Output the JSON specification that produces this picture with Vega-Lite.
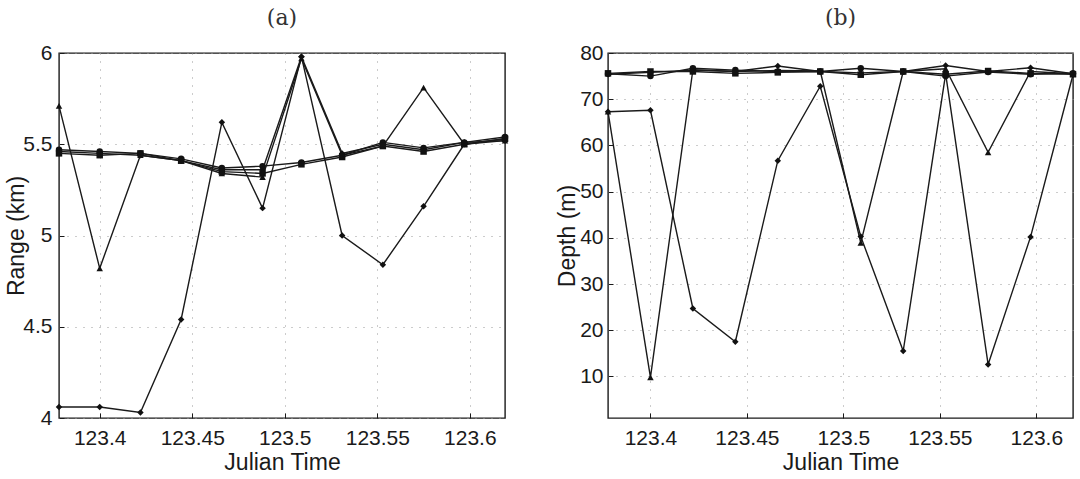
{
  "$schema": "https://vega.github.io/schema/vega-lite/v6.json",
  "background": "white",
  "padding": {"left": 5, "top": 6, "right": 0, "bottom": 0},
  "bounds": "flush",
  "spacing": 103,
  "config": {
    "view": {"stroke": "#1a1a1a", "strokeWidth": 1.4},
    "axis": {
      "labelFont": "Liberation Sans",
      "labelFontSize": 21,
      "labelColor": "#1a1a1a",
      "titleFont": "Liberation Sans",
      "titleFontSize": 23,
      "titleFontWeight": "normal",
      "titleColor": "#1a1a1a",
      "domain": false,
      "ticks": true,
      "tickSize": -5,
      "tickColor": "#1a1a1a",
      "grid": true,
      "gridColor": "#999999",
      "gridDash": [1, 7],
      "gridWidth": 1
    },
    "axisX": {"labelPadding": 14, "titlePadding": 3},
    "axisY": {"labelPadding": 12, "titlePadding": -6},
    "title": {"font": "DejaVu Serif", "fontSize": 22, "fontWeight": "normal", "color": "#333333", "offset": 12}
  },
  "data": {
    "values": [
      {"panel": "a", "series": "D", "t": 123.378, "v": 4.06},
      {"panel": "a", "series": "D", "t": 123.400, "v": 4.06},
      {"panel": "a", "series": "D", "t": 123.422, "v": 4.03},
      {"panel": "a", "series": "D", "t": 123.444, "v": 4.54},
      {"panel": "a", "series": "D", "t": 123.466, "v": 5.62},
      {"panel": "a", "series": "D", "t": 123.488, "v": 5.15},
      {"panel": "a", "series": "D", "t": 123.509, "v": 5.98},
      {"panel": "a", "series": "D", "t": 123.531, "v": 5.00},
      {"panel": "a", "series": "D", "t": 123.553, "v": 4.84},
      {"panel": "a", "series": "D", "t": 123.575, "v": 5.16},
      {"panel": "a", "series": "D", "t": 123.597, "v": 5.50},
      {"panel": "a", "series": "D", "t": 123.619, "v": 5.53},

      {"panel": "a", "series": "T", "t": 123.378, "v": 5.71},
      {"panel": "a", "series": "T", "t": 123.400, "v": 4.82},
      {"panel": "a", "series": "T", "t": 123.422, "v": 5.44},
      {"panel": "a", "series": "T", "t": 123.444, "v": 5.41},
      {"panel": "a", "series": "T", "t": 123.466, "v": 5.34},
      {"panel": "a", "series": "T", "t": 123.488, "v": 5.32},
      {"panel": "a", "series": "T", "t": 123.509, "v": 5.97},
      {"panel": "a", "series": "T", "t": 123.531, "v": 5.44},
      {"panel": "a", "series": "T", "t": 123.553, "v": 5.49},
      {"panel": "a", "series": "T", "t": 123.575, "v": 5.81},
      {"panel": "a", "series": "T", "t": 123.597, "v": 5.50},
      {"panel": "a", "series": "T", "t": 123.619, "v": 5.52},

      {"panel": "a", "series": "X", "t": 123.378, "v": 5.46},
      {"panel": "a", "series": "X", "t": 123.400, "v": 5.45},
      {"panel": "a", "series": "X", "t": 123.422, "v": 5.44},
      {"panel": "a", "series": "X", "t": 123.444, "v": 5.41},
      {"panel": "a", "series": "X", "t": 123.466, "v": 5.36},
      {"panel": "a", "series": "X", "t": 123.488, "v": 5.36},
      {"panel": "a", "series": "X", "t": 123.509, "v": 5.98},
      {"panel": "a", "series": "X", "t": 123.531, "v": 5.45},
      {"panel": "a", "series": "X", "t": 123.553, "v": 5.50},
      {"panel": "a", "series": "X", "t": 123.575, "v": 5.47},
      {"panel": "a", "series": "X", "t": 123.597, "v": 5.51},
      {"panel": "a", "series": "X", "t": 123.619, "v": 5.52},

      {"panel": "a", "series": "C1", "t": 123.378, "v": 5.47},
      {"panel": "a", "series": "C1", "t": 123.400, "v": 5.46},
      {"panel": "a", "series": "C1", "t": 123.422, "v": 5.45},
      {"panel": "a", "series": "C1", "t": 123.444, "v": 5.42},
      {"panel": "a", "series": "C1", "t": 123.466, "v": 5.37},
      {"panel": "a", "series": "C1", "t": 123.488, "v": 5.38},
      {"panel": "a", "series": "C1", "t": 123.509, "v": 5.40},
      {"panel": "a", "series": "C1", "t": 123.531, "v": 5.44},
      {"panel": "a", "series": "C1", "t": 123.553, "v": 5.51},
      {"panel": "a", "series": "C1", "t": 123.575, "v": 5.48},
      {"panel": "a", "series": "C1", "t": 123.597, "v": 5.51},
      {"panel": "a", "series": "C1", "t": 123.619, "v": 5.54},

      {"panel": "a", "series": "C2", "t": 123.378, "v": 5.45},
      {"panel": "a", "series": "C2", "t": 123.400, "v": 5.44},
      {"panel": "a", "series": "C2", "t": 123.422, "v": 5.45},
      {"panel": "a", "series": "C2", "t": 123.444, "v": 5.41},
      {"panel": "a", "series": "C2", "t": 123.466, "v": 5.35},
      {"panel": "a", "series": "C2", "t": 123.488, "v": 5.34},
      {"panel": "a", "series": "C2", "t": 123.509, "v": 5.39},
      {"panel": "a", "series": "C2", "t": 123.531, "v": 5.43},
      {"panel": "a", "series": "C2", "t": 123.553, "v": 5.49},
      {"panel": "a", "series": "C2", "t": 123.575, "v": 5.46},
      {"panel": "a", "series": "C2", "t": 123.597, "v": 5.50},
      {"panel": "a", "series": "C2", "t": 123.619, "v": 5.53},

      {"panel": "b", "series": "D", "t": 123.378, "v": 67.3},
      {"panel": "b", "series": "D", "t": 123.400, "v": 67.6},
      {"panel": "b", "series": "D", "t": 123.422, "v": 24.7},
      {"panel": "b", "series": "D", "t": 123.444, "v": 17.5},
      {"panel": "b", "series": "D", "t": 123.466, "v": 56.7},
      {"panel": "b", "series": "D", "t": 123.488, "v": 72.8},
      {"panel": "b", "series": "D", "t": 123.509, "v": 40.3},
      {"panel": "b", "series": "D", "t": 123.531, "v": 15.5},
      {"panel": "b", "series": "D", "t": 123.553, "v": 75.5},
      {"panel": "b", "series": "D", "t": 123.575, "v": 12.6},
      {"panel": "b", "series": "D", "t": 123.597, "v": 40.2},
      {"panel": "b", "series": "D", "t": 123.619, "v": 75.3},

      {"panel": "b", "series": "T", "t": 123.378, "v": 67.3},
      {"panel": "b", "series": "T", "t": 123.400, "v": 9.8},
      {"panel": "b", "series": "T", "t": 123.422, "v": 76.4},
      {"panel": "b", "series": "T", "t": 123.444, "v": 76.0},
      {"panel": "b", "series": "T", "t": 123.466, "v": 76.2},
      {"panel": "b", "series": "T", "t": 123.488, "v": 76.1},
      {"panel": "b", "series": "T", "t": 123.509, "v": 38.9},
      {"panel": "b", "series": "T", "t": 123.531, "v": 76.0},
      {"panel": "b", "series": "T", "t": 123.553, "v": 76.6},
      {"panel": "b", "series": "T", "t": 123.575, "v": 58.5},
      {"panel": "b", "series": "T", "t": 123.597, "v": 76.0},
      {"panel": "b", "series": "T", "t": 123.619, "v": 75.5},

      {"panel": "b", "series": "X", "t": 123.378, "v": 75.4},
      {"panel": "b", "series": "X", "t": 123.400, "v": 75.8},
      {"panel": "b", "series": "X", "t": 123.422, "v": 76.3},
      {"panel": "b", "series": "X", "t": 123.444, "v": 76.0},
      {"panel": "b", "series": "X", "t": 123.466, "v": 77.2},
      {"panel": "b", "series": "X", "t": 123.488, "v": 76.0},
      {"panel": "b", "series": "X", "t": 123.509, "v": 75.7},
      {"panel": "b", "series": "X", "t": 123.531, "v": 76.0},
      {"panel": "b", "series": "X", "t": 123.553, "v": 77.3},
      {"panel": "b", "series": "X", "t": 123.575, "v": 76.0},
      {"panel": "b", "series": "X", "t": 123.597, "v": 76.8},
      {"panel": "b", "series": "X", "t": 123.619, "v": 75.5},

      {"panel": "b", "series": "C1", "t": 123.378, "v": 75.5},
      {"panel": "b", "series": "C1", "t": 123.400, "v": 75.0},
      {"panel": "b", "series": "C1", "t": 123.422, "v": 76.7},
      {"panel": "b", "series": "C1", "t": 123.444, "v": 76.3},
      {"panel": "b", "series": "C1", "t": 123.466, "v": 76.0},
      {"panel": "b", "series": "C1", "t": 123.488, "v": 76.0},
      {"panel": "b", "series": "C1", "t": 123.509, "v": 76.7},
      {"panel": "b", "series": "C1", "t": 123.531, "v": 76.0},
      {"panel": "b", "series": "C1", "t": 123.553, "v": 75.0},
      {"panel": "b", "series": "C1", "t": 123.575, "v": 75.9},
      {"panel": "b", "series": "C1", "t": 123.597, "v": 75.4},
      {"panel": "b", "series": "C1", "t": 123.619, "v": 75.6},

      {"panel": "b", "series": "C2", "t": 123.378, "v": 75.6},
      {"panel": "b", "series": "C2", "t": 123.400, "v": 76.0},
      {"panel": "b", "series": "C2", "t": 123.422, "v": 76.0},
      {"panel": "b", "series": "C2", "t": 123.444, "v": 75.6},
      {"panel": "b", "series": "C2", "t": 123.466, "v": 75.8},
      {"panel": "b", "series": "C2", "t": 123.488, "v": 76.0},
      {"panel": "b", "series": "C2", "t": 123.509, "v": 75.3},
      {"panel": "b", "series": "C2", "t": 123.531, "v": 76.0},
      {"panel": "b", "series": "C2", "t": 123.553, "v": 75.4},
      {"panel": "b", "series": "C2", "t": 123.575, "v": 76.1},
      {"panel": "b", "series": "C2", "t": 123.597, "v": 75.6},
      {"panel": "b", "series": "C2", "t": 123.619, "v": 75.4}
    ]
  },
  "hconcat": [
    {
      "width": 446,
      "height": 365,
      "title": {"text": "(a)"},
      "transform": [{"filter": "datum.panel === 'a'"}],
      "encoding": {
        "x": {
          "field": "t",
          "type": "quantitative",
          "scale": {"domain": [123.378, 123.619], "nice": false, "zero": false},
          "axis": {"title": "Julian Time", "values": [123.4, 123.45, 123.5, 123.55, 123.6], "format": ".5~r"}
        },
        "y": {
          "field": "v",
          "type": "quantitative",
          "scale": {"domain": [4, 6], "nice": false, "zero": false},
          "axis": {"title": "Range (km)", "values": [4, 4.5, 5, 5.5, 6], "format": "~g"}
        }
      },
      "layer": [
        {
          "mark": {"type": "line", "color": "#1a1a1a", "strokeWidth": 1.4},
          "encoding": {"detail": {"field": "series", "type": "nominal"}}
        },
        {
          "mark": {"type": "point", "filled": true, "color": "#111111", "size": 42, "opacity": 1},
          "encoding": {
            "shape": {
              "field": "series",
              "type": "nominal",
              "scale": {"domain": ["D", "T", "X", "C1", "C2"], "range": ["diamond", "triangle-up", "diamond", "circle", "square"]},
              "legend": null
            }
          }
        }
      ]
    },
    {
      "width": 465,
      "height": 365,
      "title": {"text": "(b)"},
      "transform": [{"filter": "datum.panel === 'b'"}],
      "encoding": {
        "x": {
          "field": "t",
          "type": "quantitative",
          "scale": {"domain": [123.378, 123.619], "nice": false, "zero": false},
          "axis": {"title": "Julian Time", "values": [123.4, 123.45, 123.5, 123.55, 123.6], "format": ".5~r"}
        },
        "y": {
          "field": "v",
          "type": "quantitative",
          "scale": {"domain": [1, 80], "nice": false, "zero": false},
          "axis": {"title": "Depth (m)", "values": [10, 20, 30, 40, 50, 60, 70, 80], "format": "d", "labelPadding": 10, "titlePadding": 0}
        }
      },
      "layer": [
        {
          "mark": {"type": "line", "color": "#1a1a1a", "strokeWidth": 1.4},
          "encoding": {"detail": {"field": "series", "type": "nominal"}}
        },
        {
          "mark": {"type": "point", "filled": true, "color": "#111111", "size": 42, "opacity": 1},
          "encoding": {
            "shape": {
              "field": "series",
              "type": "nominal",
              "scale": {"domain": ["D", "T", "X", "C1", "C2"], "range": ["diamond", "triangle-up", "diamond", "circle", "square"]},
              "legend": null
            }
          }
        }
      ]
    }
  ]
}
